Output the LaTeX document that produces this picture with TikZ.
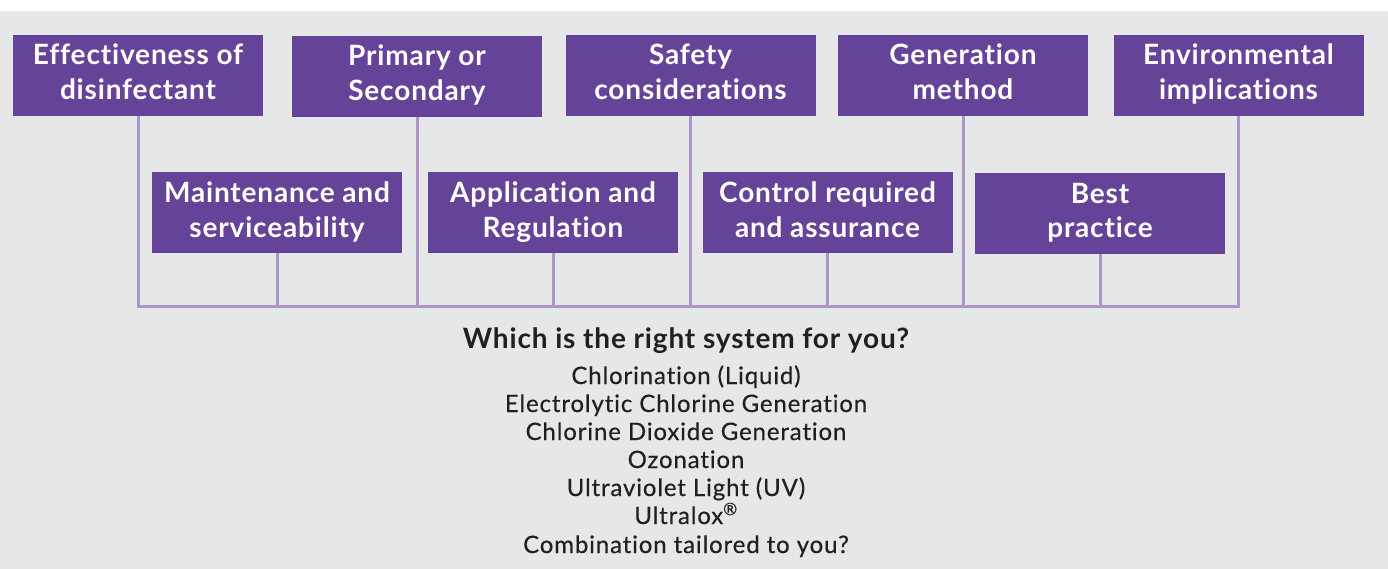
\documentclass[tikz,border=0pt]{standalone}
\usepackage{fontspec}
\setmainfont{Lato}[LetterSpace=3, Ligatures={NoCommon}]
\usepackage{tikz}
\usepackage{color}
\definecolor{boxpurple}{HTML}{654399}
\definecolor{linkline}{HTML}{AE94C8}
\definecolor{panelgrey}{HTML}{E6E7E9}
\definecolor{textdark}{HTML}{231F20}
\tikzset{
 factor/.style={fill=boxpurple, text=white, minimum width=250pt, minimum height=81pt,
   inner sep=0pt, align=center, font=\fontsize{28}{35}\selectfont\bfseries},
 link/.style={draw=linkline, line width=3pt},
 option/.style={anchor=base, text=textdark, font=\fontsize{24}{28}\selectfont\addfontfeatures{LetterSpace=3.6, FakeBold=0.4}},
}

\begin{document}
\begin{tikzpicture}[x=1pt,y=-1pt]
 \useasboundingbox (0,0) rectangle (1388,569);
 \fill[white] (0,0) rectangle (1388,569);
 \fill[panelgrey] (0,11) rectangle (1388,569);
 % top row
 \node[factor] (eff) at (138,75.5) {\strut Effectiveness of\\\strut disinfectant};
 \node[factor] (prim) at (417,76.5) {\strut Primary or\\\strut Secondary};
 \node[factor] (safe) at (690.5,75.5) {\strut Safety\\\strut considerations};
 \node[factor] (gen) at (963,75.5) {\strut Generation\\\strut method};
 \node[factor] (env) at (1238.5,75.5) {\strut Environmental\\\strut implications};
 % bottom row
 \node[factor] (maint) at (277,212.5) {\strut Maintenance and\\\strut serviceability};
 \node[factor] (appl) at (553,212.5) {\strut Application and\\\strut Regulation};
 \node[factor] (ctrl) at (827.5,212.5) {\strut Control required\\\strut and assurance};
 \node[factor] (best) at (1100,213.5) {\strut Best\\\strut practice};
 % connectors
 \coordinate (bus) at (0,306);
 \draw[link] (eff.south) -- (eff.south |- bus) -- (env.south |- bus) -- (env.south);
 \draw[link] (prim.south) -- (prim.south |- bus);
 \draw[link] (safe.south) -- (safe.south |- bus);
 \draw[link] (gen.south) -- (gen.south |- bus);
 \draw[link] (maint.south) -- (maint.south |- bus);
 \draw[link] (appl.south) -- (appl.south |- bus);
 \draw[link] (ctrl.south) -- (ctrl.south |- bus);
 \draw[link] (best.south) -- (best.south |- bus);
 % systems
 \node[anchor=base, text=textdark, font=\fontsize{28}{32}\selectfont\bfseries] (question) at (686,348) {Which is the right system for you?};
 \node[option] (liquid) at (686,384) {Chlorination (Liquid)};
 \node[option] (electro) at (686,412) {Electrolytic Chlorine Generation};
 \node[option] (dioxide) at (686,440) {Chlorine Dioxide Generation};
 \node[option] (ozone) at (686,468) {Ozonation};
 \node[option] (uv) at (686,496) {Ultraviolet Light (UV)};
 \node[option] (ultralox) at (686,524) {Ultralox\textsuperscript{®}};
 \node[option] (combo) at (686,553) {Combination tailored to you?};
\end{tikzpicture}
\end{document}
